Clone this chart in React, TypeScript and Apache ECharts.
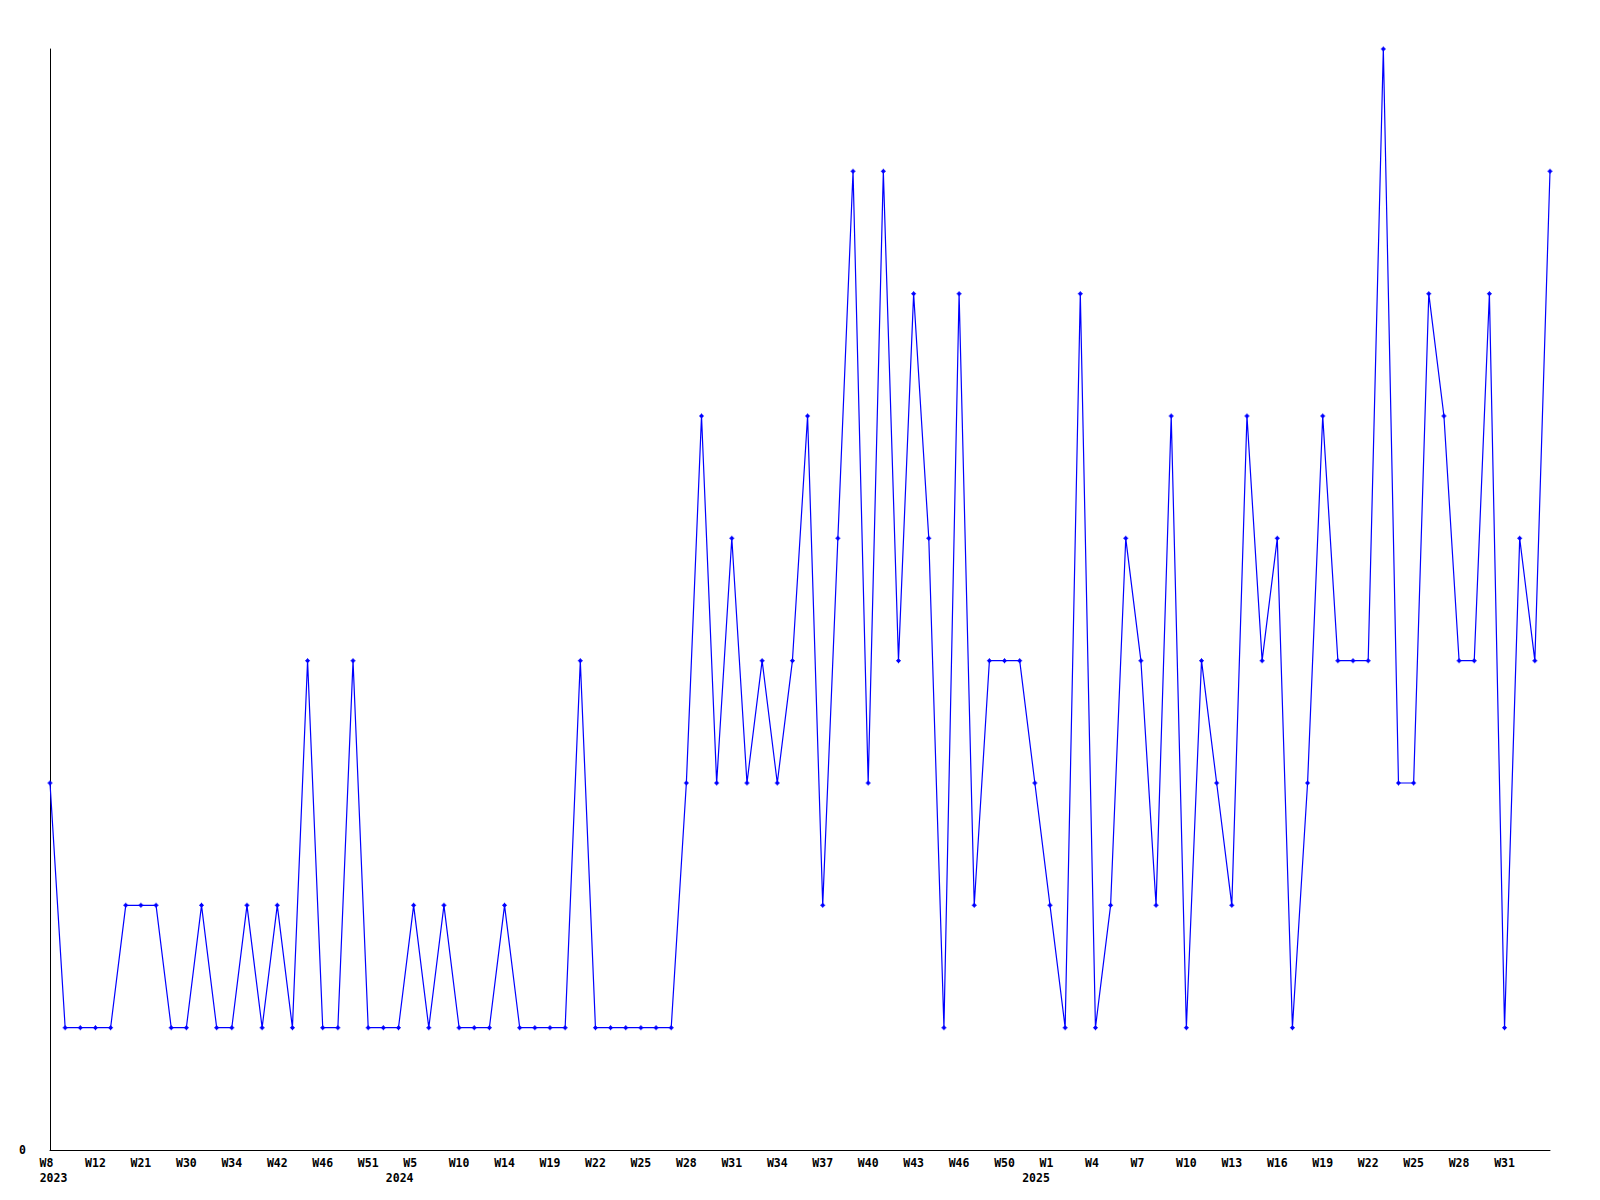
import React, { useEffect, useRef } from 'react';
import * as echarts from 'echarts';

const weekLabels = [
  'W8', 'W9', 'W10', 'W12', 'W14', 'W17', 'W21', 'W24', 'W27', 'W30',
  'W31', 'W33', 'W34', 'W37', 'W39', 'W42', 'W43', 'W45', 'W46', 'W48',
  'W49', 'W51', 'W52', 'W53', 'W5', 'W7', 'W8', 'W10', 'W11', 'W13',
  'W14', 'W16', 'W17', 'W19', 'W20', 'W21', 'W22', 'W23', 'W24', 'W25',
  'W26', 'W27', 'W28', 'W29', 'W30', 'W31', 'W32', 'W33', 'W34', 'W35',
  'W36', 'W37', 'W38', 'W39', 'W40', 'W41', 'W42', 'W43', 'W44', 'W45',
  'W46', 'W47', 'W48', 'W50', 'W51', 'W52', 'W1', 'W2', 'W3', 'W4',
  'W5', 'W6', 'W7', 'W8', 'W9', 'W10', 'W11', 'W12', 'W13', 'W14',
  'W15', 'W16', 'W17', 'W18', 'W19', 'W20', 'W21', 'W22', 'W23', 'W24',
  'W25', 'W26', 'W27', 'W28', 'W29', 'W30', 'W31', 'W32', 'W33', 'W34',
];

const yearMarks = [0, 24, 66];
const yearLabels = ['2023', '2024', '2025'];

const counts = [
  3, 1, 1, 1, 1, 2, 2, 2, 1, 1,
  2, 1, 1, 2, 1, 2, 1, 4, 1, 1,
  4, 1, 1, 1, 2, 1, 2, 1, 1, 1,
  2, 1, 1, 1, 1, 4, 1, 1, 1, 1,
  1, 1, 3, 6, 3, 5, 3, 4, 3, 4,
  6, 2, 5, 8, 3, 8, 4, 7, 5, 1,
  7, 2, 4, 4, 4, 3, 2, 1, 7, 1,
  2, 5, 4, 2, 6, 1, 4, 3, 2, 6,
  4, 5, 1, 3, 6, 4, 4, 4, 9, 3,
  3, 7, 6, 4, 4, 7, 1, 5, 4, 8,
];

const yMax = 9;

export default function App() {
  const ref = useRef<HTMLDivElement>(null);
  useEffect(() => {
    const chart = echarts.init(ref.current!, null, { renderer: 'svg' });
    const CW = 7;
    const base = {
      fontFamily: 'DejaVu Sans Mono',
      fontWeight: 'bold',
      fontSize: 11.5,
      color: '#000',
      lineHeight: 14.5,
    };
    const lastIdx = weekLabels.length - 1;
    chart.setOption({
      animation: false,
      backgroundColor: '#ffffff',
      grid: { left: 50, right: 50, top: 49, bottom: 50, containLabel: false },
      xAxis: {
        type: 'category',
        data: weekLabels,
        boundaryGap: false,
        axisLine: { show: true, lineStyle: { color: '#000', width: 1 } },
        axisTick: { show: false },
        splitLine: { show: false },
        axisLabel: {
          interval: (i: number) => i % 3 === 0 && i !== lastIdx,
          margin: 6,
          align: 'center',
          verticalAlign: 'top',
          formatter: (v: string, i: number) => {
            let s = `{w|${v}}`;
            if (v.length < 3) s += '{s|}';
            const yi = yearMarks.indexOf(i);
            if (yi >= 0) {
              s += i === 0
                ? `\n{s|}{y|${yearLabels[yi]}}`
                : `\n{y|${yearLabels[yi]}}{s4|}`;
            }
            return s;
          },
          rich: {
            w: base,
            y: base,
            s: { ...base, width: CW },
            s4: { ...base, width: 4 * CW },
          },
        },
      },
      yAxis: {
        type: 'value',
        min: 0,
        max: yMax,
        interval: yMax,
        axisLine: { show: true, lineStyle: { color: '#000', width: 1 } },
        axisTick: { show: false },
        splitLine: { show: false },
        axisLabel: {
          margin: 24,
          formatter: (v: number) => (v === 0 ? '0' : ''),
          fontFamily: 'DejaVu Sans Mono',
          fontWeight: 'bold',
          fontSize: 11.5,
          color: '#000',
        },
      },
      series: [
        {
          type: 'line',
          data: counts,
          showSymbol: true,
          symbol: 'path://M2,0L3,0L3,1L4,1L4,2L5,2L5,3L4,3L4,4L3,4L3,5L2,5L2,4L1,4L1,3L0,3L0,2L1,2L1,1L2,1Z',
          symbolSize: 5,
          itemStyle: { color: '#0000ff' },
          lineStyle: { color: '#0000ff', width: 1.2 },
          emphasis: { disabled: true },
        },
      ],
    });
    return () => chart.dispose();
  }, []);
  return (
    <div
      ref={ref}
      style={{ position: 'fixed', left: 0, top: 0, width: 1600, height: 1200 }}
    />
  );
}
